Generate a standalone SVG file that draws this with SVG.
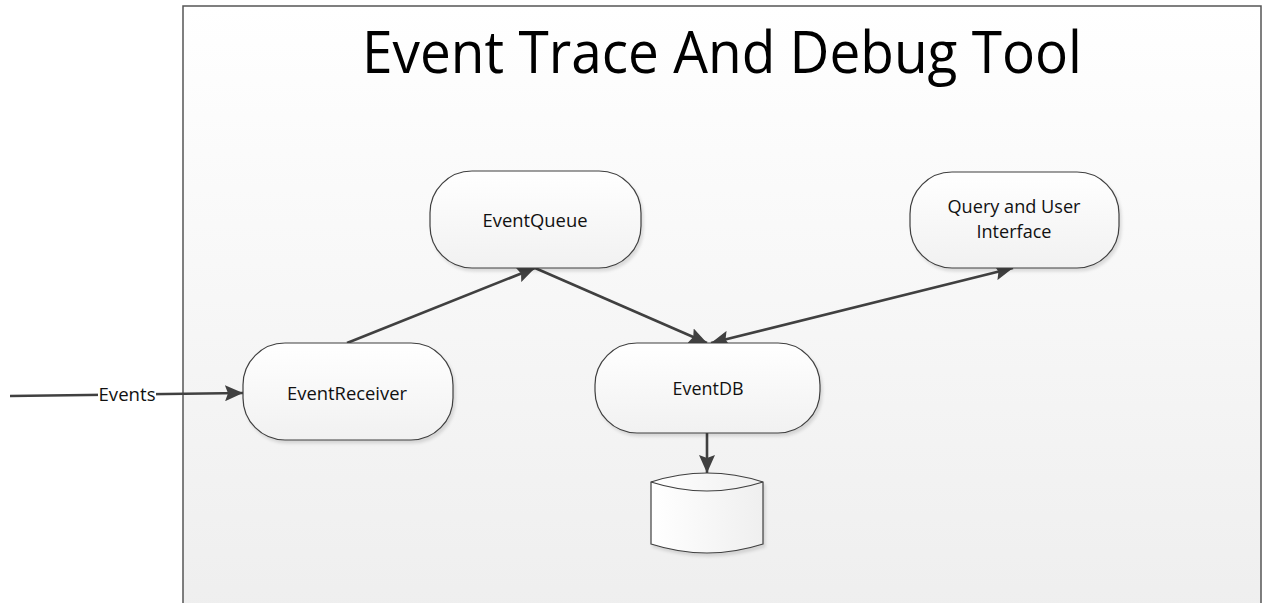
<svg xmlns="http://www.w3.org/2000/svg" width="1262" height="603" viewBox="0 0 1262 603">
<defs>
<style>
.node{fill:url(#ng);stroke:#3f3f3f;stroke-width:1.2;filter:url(#sh)}
.lbl{font-family:"Open Sans","Noto Sans",sans-serif;font-size:18px;fill:#111;text-anchor:middle}
.con{fill:none;stroke:#404040;stroke-width:2.6}
</style>
<linearGradient id="bg" x1="0" y1="0" x2="0" y2="1">
<stop offset="0" stop-color="#ffffff"/>
<stop offset="1" stop-color="#eeeeee"/>
</linearGradient>
<linearGradient id="ng" x1="0" y1="0" x2="0" y2="1">
<stop offset="0" stop-color="#ffffff"/>
<stop offset="1" stop-color="#f1f1f1"/>
</linearGradient>
<linearGradient id="cg" x1="0" y1="0" x2="1" y2="0">
<stop offset="0" stop-color="#ffffff"/>
<stop offset="1" stop-color="#efefef"/>
</linearGradient>
<filter id="sh" x="-10%" y="-10%" width="125%" height="130%">
<feDropShadow dx="2" dy="3" stdDeviation="1.5" flood-color="#000" flood-opacity="0.12"/>
</filter>
<marker id="ah" viewBox="0 0 18 16" refX="18" refY="8" markerWidth="18" markerHeight="16" markerUnits="userSpaceOnUse" orient="auto-start-reverse">
<path d="M0,0 L18,8 L0,16 L3,8 Z" fill="#404040"/>
</marker>
</defs>
<rect x="0" y="0" width="1262" height="603" fill="#ffffff"/>
<g id="frame">
<rect x="183" y="6" width="1078" height="620" fill="url(#bg)" stroke="#555555" stroke-width="1.5"/>
<text x="722" y="73" font-family="'Open Sans','Noto Sans',sans-serif" font-size="58" fill="#000" text-anchor="middle" textLength="720" lengthAdjust="spacingAndGlyphs">Event Trace And Debug Tool</text>
</g>
<g id="connectors">
<line class="con" x1="10" y1="396" x2="243" y2="393" marker-end="url(#ah)"/>
<rect x="98" y="384" width="58" height="20" fill="#ffffff"/>
<text class="lbl" x="127" y="401" textLength="57" lengthAdjust="spacingAndGlyphs">Events</text>
<line class="con" x1="347" y1="343" x2="535" y2="268" marker-end="url(#ah)"/>
<line class="con" x1="535" y1="268" x2="707" y2="343" marker-end="url(#ah)"/>
<line class="con" x1="711" y1="343" x2="1013" y2="268" marker-start="url(#ah)" marker-end="url(#ah)"/>
<line class="con" x1="707" y1="433" x2="707" y2="473" marker-end="url(#ah)"/>
</g>
<g id="EventReceiver">
<rect class="node" x="243" y="343" width="210" height="97" rx="42"/>
<text class="lbl" x="347" y="400" textLength="120" lengthAdjust="spacingAndGlyphs">EventReceiver</text>
</g>
<g id="EventQueue">
<rect class="node" x="430" y="171" width="211" height="97" rx="42"/>
<text class="lbl" x="535" y="227" textLength="105" lengthAdjust="spacingAndGlyphs">EventQueue</text>
</g>
<g id="EventDB">
<rect class="node" x="595" y="343" width="225" height="90" rx="42"/>
<text class="lbl" x="708" y="395" textLength="71" lengthAdjust="spacingAndGlyphs">EventDB</text>
</g>
<g id="QueryUI">
<rect class="node" x="910" y="172" width="209" height="96" rx="42"/>
<text class="lbl" x="1014" y="213" textLength="133" lengthAdjust="spacingAndGlyphs">Query and User</text>
<text class="lbl" x="1014" y="238" textLength="75" lengthAdjust="spacingAndGlyphs">Interface</text>
</g>
<g id="Database">
<path d="M651,482 Q707,464 763,482 L763,544 Q707,562 651,544 Z" fill="url(#cg)" stroke="#3f3f3f" stroke-width="1.2" filter="url(#sh)"/>
<path d="M651,482 Q707,500 763,482" fill="none" stroke="#3f3f3f" stroke-width="1.2"/>
</g>
</svg>
